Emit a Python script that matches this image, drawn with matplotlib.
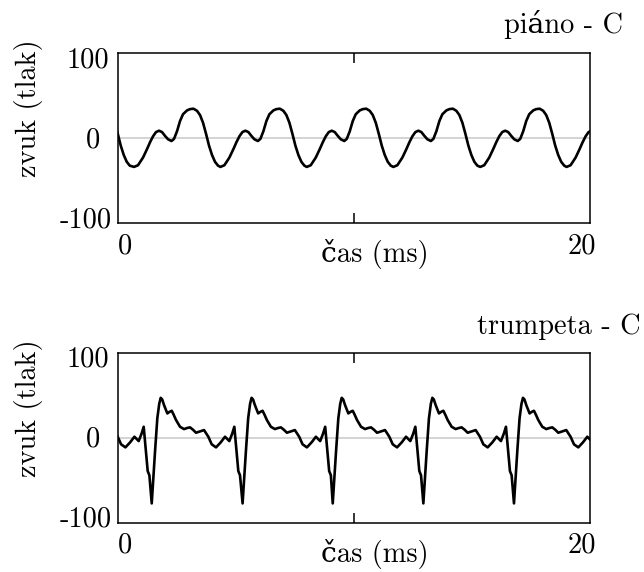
import matplotlib
matplotlib.use('Agg')
import matplotlib.pyplot as plt
import matplotlib.transforms as mtrans
import numpy as np

# one period of each waveform (time from period start in ms, pressure)
piano_phase = [0.000, 0.169, 0.381, 0.551, 0.678, 0.805, 0.932, 1.059, 1.186, 1.314,
               1.441, 1.589, 1.695, 1.822, 1.949, 2.076, 2.246, 2.373, 2.521, 2.669,
               2.797, 2.924, 3.051, 3.178, 3.305, 3.432, 3.559]
piano_shape = [-34, -32, -23, -13, -5, 2, 7, 8.6, 7, 2.5,
               -1.5, -3.5, -1, 8, 20, 28, 32.5, 34, 34.5, 32,
               27, 18, 5, -9, -20, -28, -32.5]
piano_onsets = [-3.06, 0.68, 4.34, 8.00, 11.67, 15.35, 19.01]  # troughs

trumpet_phase = [0.000, 0.140, 0.237, 0.318, 0.381, 0.445, 0.521, 0.661, 0.754, 0.847,
                 0.932, 1.030, 1.199, 1.369, 1.496, 1.623, 1.750, 1.877, 2.047, 2.216,
                 2.398, 2.542, 2.725, 2.924, 3.106, 3.288, 3.411, 3.500, 3.669, 3.741]
trumpet_shape = [-77, -16, 23, 40, 47, 45, 38.5, 28.7, 30.5, 31.8,
                 27, 20.9, 13, 10.3, 11.5, 12.3, 9.5, 6, 7.5, 9.1,
                 1.3, -7.6, -11.2, -5.3, 1.3, -3.8, 5, 13, -39, -44]
trumpet_onsets = [-2.41, 1.43, 5.28, 9.10, 12.94, 16.78]  # spikes

titles = ['piáno - C', 'trumpeta - C']
xlabel = 'čas (ms)'
ylabel = 'zvuk (tlak)'
xtick_vals = [0, 20]
xtick_labels = ['0', '20']
ytick_vals = [100, 0, -100]
ytick_labels = ['100', '0', '-100']

plt.rcParams['font.family'] = ['cmr10', 'DejaVu Serif']
plt.rcParams['font.size'] = 20.4
plt.rcParams['axes.unicode_minus'] = False


def build(onsets, phase, shape):
    t = np.concatenate([o + np.array(phase) for o in onsets])
    v = np.tile(shape, len(onsets))
    return t, v


def style(ax, title, title_dx, title_dy):
    ax.set_xlim(0, 20)
    ax.set_ylim(-100, 100)
    ax.axhline(0, color='#c8c8c8', lw=1.1, zorder=1)
    ax.set_xticks([10])
    ax.set_xticklabels([])
    ax.tick_params(axis='x', direction='in', top=True, length=7, width=1.1)
    ax.set_yticks([])
    for s in ax.spines.values():
        s.set_linewidth(1.1)

    bx = mtrans.blended_transform_factory(ax.transData, ax.transAxes)
    by = mtrans.blended_transform_factory(ax.transAxes, ax.transData)
    for x, lab, dx in zip(xtick_vals, xtick_labels, [7, -8]):
        ax.annotate(lab, xy=(x, 0), xycoords=bx, xytext=(dx, -30),
                    textcoords='offset pixels', ha='center', va='baseline')
    for y, lab, dx, dy in zip(ytick_vals, ytick_labels, [-30.5, -24.5, -32.5], [-14, -9, -4]):
        ax.annotate(lab, xy=(0, y), xycoords=by, xytext=(dx, dy),
                    textcoords='offset pixels', ha='center', va='baseline')

    ax.annotate(xlabel, xy=(10, 0), xycoords=bx, xytext=(21, -39),
                textcoords='offset pixels', ha='center', va='baseline')
    ax.annotate(ylabel, xy=(0, 0.5), xycoords='axes fraction', xytext=(-89, 30),
                textcoords='offset pixels', rotation=90, ha='center', va='center')
    ax.annotate(title, xy=(1, 1), xycoords='axes fraction', xytext=(title_dx, title_dy),
                textcoords='offset pixels', ha='right', va='baseline')


fig = plt.figure(figsize=(6.44, 5.72), dpi=100)
ax1 = fig.add_axes([0.1832, 0.6101, 0.7329, 0.2972])
ax2 = fig.add_axes([0.1832, 0.0857, 0.7329, 0.2977])

t, v = build(piano_onsets, piano_phase, piano_shape)
ax1.plot(t, v, color='black', lw=1.9, zorder=3)
style(ax1, titles[0], 33, 20)

t, v = build(trumpet_onsets, trumpet_phase, trumpet_shape)
ax2.plot(t, v, color='black', lw=1.9, zorder=3)
style(ax2, titles[1], 51, 19)

fig.savefig('out.png', dpi=100)
